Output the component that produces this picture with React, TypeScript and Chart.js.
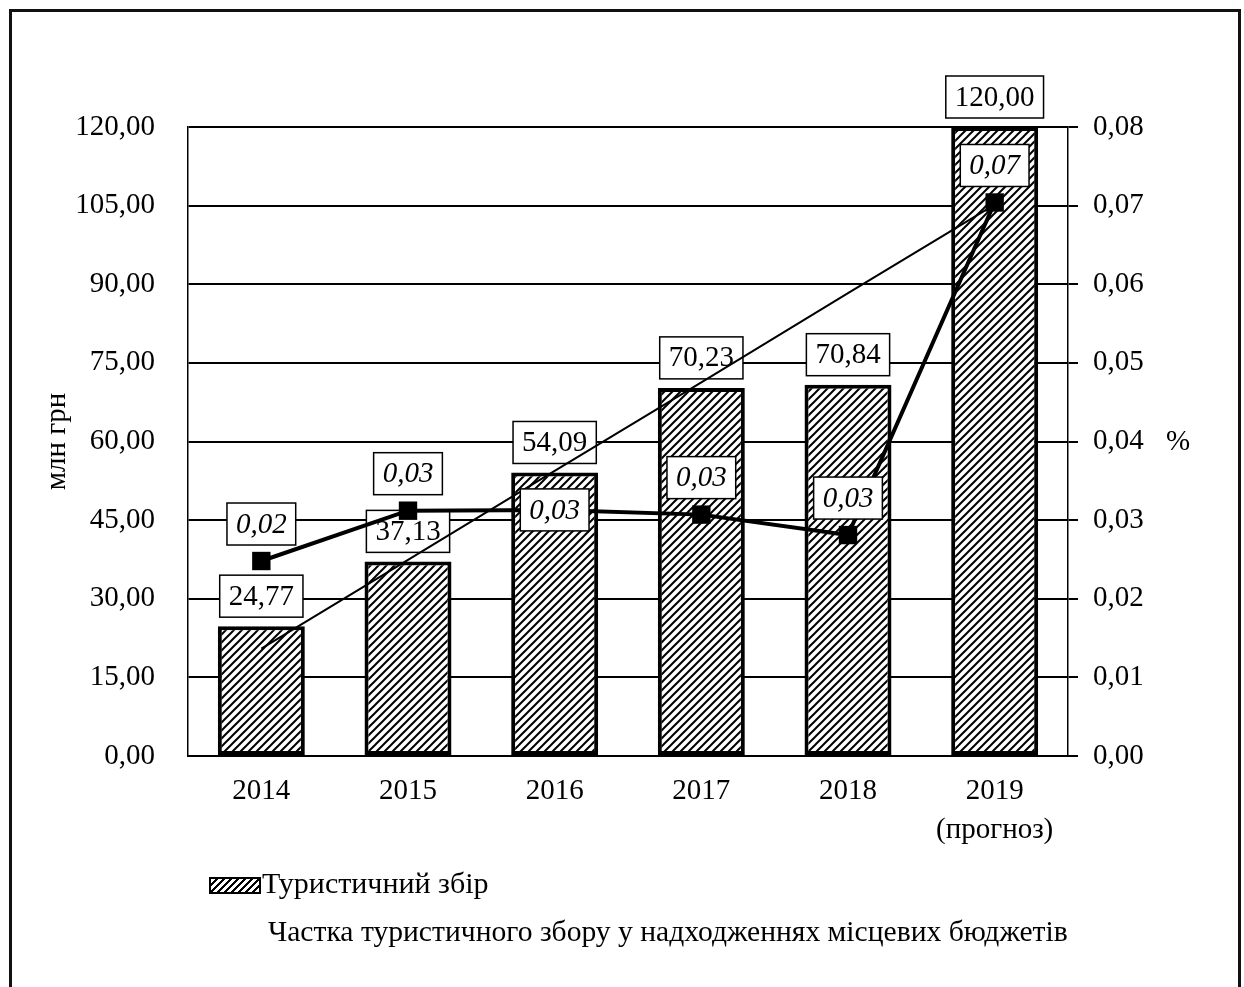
import React, { useEffect, useRef } from "react";
import { Chart, registerables } from "chart.js";

Chart.register(...registerables);

const categories: (string | string[])[] = ["2014", "2015", "2016", "2017", "2018", ["2019", "(прогноз)"]];
const touristTax = [24.77, 37.13, 54.09, 70.23, 70.84, 120.0];
const taxShare = [0.0248, 0.0312, 0.0313, 0.0307, 0.0281, 0.0704];
const trendValues = [20.5, 37.4, 54.4, 71.3, 88.3, 105.2];
const leftTicks = { min: 0, max: 120, step: 15 };
const rightTicks = { min: 0, max: 0.08, step: 0.01 };
const barLegend = "Туристичний збір";
const lineLegend = "Частка туристичного збору у надходженнях місцевих бюджетів";
const leftTitle = "млн грн";
const rightTitle = "%";

const FONT = "'Liberation Serif', 'Times New Roman', serif";
const FS = 29;
const fmt = (v: number) => v.toFixed(2).replace(".", ",");

function makeHatch(): CanvasPattern | string {
  const c = document.createElement("canvas");
  const s = 8;
  c.width = s;
  c.height = s;
  const g = c.getContext("2d");
  if (!g) return "#fff";
  g.fillStyle = "#fff";
  g.fillRect(0, 0, s, s);
  g.strokeStyle = "#000";
  g.lineWidth = 2;
  g.beginPath();
  g.moveTo(-1, s + 1);
  g.lineTo(s + 1, -1);
  g.moveTo(-1, 1);
  g.lineTo(1, -1);
  g.moveTo(s - 1, s + 1);
  g.lineTo(s + 1, s - 1);
  g.stroke();
  const p = g.createPattern(c, "repeat");
  return p || "#fff";
}

function drawBoxLabel(ctx: CanvasRenderingContext2D, text: string, x: number, y: number, italic: boolean) {
  ctx.save();
  ctx.font = `${italic ? "italic " : ""}${FS}px ${FONT}`;
  const w = ctx.measureText(text).width + 18;
  const h = 42;
  ctx.fillStyle = "#fff";
  ctx.fillRect(x - w / 2, y - h / 2, w, h);
  ctx.strokeStyle = "#000";
  ctx.lineWidth = 1.5;
  ctx.strokeRect(x - w / 2, y - h / 2, w, h);
  ctx.fillStyle = "#000";
  ctx.textAlign = "center";
  ctx.textBaseline = "middle";
  ctx.fillText(text, x, y + 1);
  ctx.restore();
}

const labelPlugin = {
  id: "boxLabels",
  afterDatasetDraw(chart: any, args: any) {
    if (args.index !== 0) return;
    const ctx = chart.ctx;
    const meta = chart.getDatasetMeta(0);
    meta.data.forEach((el: any, i: number) => {
      drawBoxLabel(ctx, fmt(touristTax[i]), el.x, el.y - 30, false);
    });
  },
  afterDatasetsDraw(chart: any) {
    const ctx = chart.ctx;
    const meta = chart.getDatasetMeta(2);
    meta.data.forEach((el: any, i: number) => {
      const shift = i === 2 ? 0 : -37;
      drawBoxLabel(ctx, fmt(taxShare[i]), el.x, el.y + shift, true);
    });
  },
};

export default function App() {
  const ref = useRef<HTMLCanvasElement | null>(null);

  useEffect(() => {
    if (!ref.current) return;
    const hatch = makeHatch();
    const chart = new Chart(ref.current, {
      type: "bar",
      data: {
        labels: categories,
        datasets: [
          {
            type: "bar",
            label: barLegend,
            data: touristTax,
            yAxisID: "y",
            backgroundColor: hatch as any,
            borderColor: "#000",
            borderWidth: 4,
            borderSkipped: false,
            barPercentage: 0.593,
            categoryPercentage: 1,
            order: 3,
          },
          {
            type: "line",
            label: "trend",
            data: trendValues,
            yAxisID: "y",
            borderColor: "#000",
            borderWidth: 2,
            pointRadius: 0,
            tension: 0,
            order: 2,
          },
          {
            type: "line",
            label: lineLegend,
            data: taxShare,
            yAxisID: "y1",
            borderColor: "#000",
            backgroundColor: "#000",
            borderWidth: 4,
            pointStyle: "rect",
            pointRadius: 13,
            pointBorderWidth: 0,
            tension: 0,
            order: 1,
          },
        ],
      },
      options: {
        responsive: false,
        animation: false,
        layout: { padding: { left: 0, right: 0, top: 127, bottom: 0 } },
        plugins: {
          legend: { display: false },
          tooltip: { enabled: false },
        },
        scales: {
          x: {
            grid: { display: false },
            border: { display: true, color: "#000", width: 2 },
            ticks: {
              color: "#000",
              padding: 8,
              font: { family: FONT, size: FS, lineHeight: 1.35 },
              maxRotation: 0,
            },
            afterFit: (s: any) => {
              s.height = 231;
            },
          },
          y: {
            position: "left",
            min: leftTicks.min,
            max: leftTicks.max,
            grid: { color: "#000", lineWidth: 2, drawTicks: false },
            border: { display: true, color: "#000", width: 1.5 },
            ticks: {
              stepSize: leftTicks.step,
              padding: 33,
              color: "#000",
              font: { family: FONT, size: FS },
              callback: (v: any) => fmt(Number(v)),
            },
            title: {
              display: true,
              text: leftTitle,
              color: "#000",
              font: { family: FONT, size: FS },
              padding: { top: 40, bottom: 0 },
            },
            afterFit: (s: any) => {
              s.width = 188;
            },
          },
          y1: {
            position: "right",
            min: rightTicks.min,
            max: rightTicks.max,
            grid: {
              drawOnChartArea: false,
              drawTicks: true,
              tickLength: 10,
              color: "#000",
              lineWidth: 2,
            },
            border: { display: true, color: "#000", width: 1.5 },
            ticks: {
              stepSize: rightTicks.step,
              padding: 15,
              color: "#000",
              font: { family: FONT, size: FS },
              callback: (v: any) => fmt(Number(v)),
            },
            afterFit: (s: any) => {
              s.width = 176;
            },
          },
        },
      },
      plugins: [labelPlugin],
    });
    return () => chart.destroy();
  }, []);

  const textStyle: React.CSSProperties = {
    position: "absolute",
    fontFamily: FONT,
    fontSize: FS,
    lineHeight: `${FS}px`,
    color: "#000",
    whiteSpace: "nowrap",
  };
  const legendStyle: React.CSSProperties = { ...textStyle, fontSize: 30, lineHeight: "30px" };

  return (
    <div style={{ position: "absolute", left: 0, top: 0, width: 1244, height: 987, background: "#fff", overflow: "hidden" }}>
      <div
        style={{
          position: "absolute",
          left: 9,
          top: 9,
          width: 1226,
          height: 1000,
          border: "3px solid #111",
        }}
      />
      <canvas ref={ref} width={1244} height={987} style={{ position: "absolute", left: 0, top: 0 }} />
      <div style={{ ...textStyle, left: 1166, top: 426 }}>{rightTitle}</div>
      <div
        style={{
          position: "absolute",
          left: 209,
          top: 877,
          width: 48,
          height: 13,
          border: "2px solid #000",
          background:
            "repeating-linear-gradient(135deg, #fff 0px, #fff 3px, #000 3px, #000 5px)",
        }}
      />
      <div style={{ ...legendStyle, left: 262, top: 868 }}>{barLegend}</div>
      <div style={{ ...legendStyle, fontSize: 29.6, left: 268, top: 916 }}>{lineLegend}</div>
    </div>
  );
}
